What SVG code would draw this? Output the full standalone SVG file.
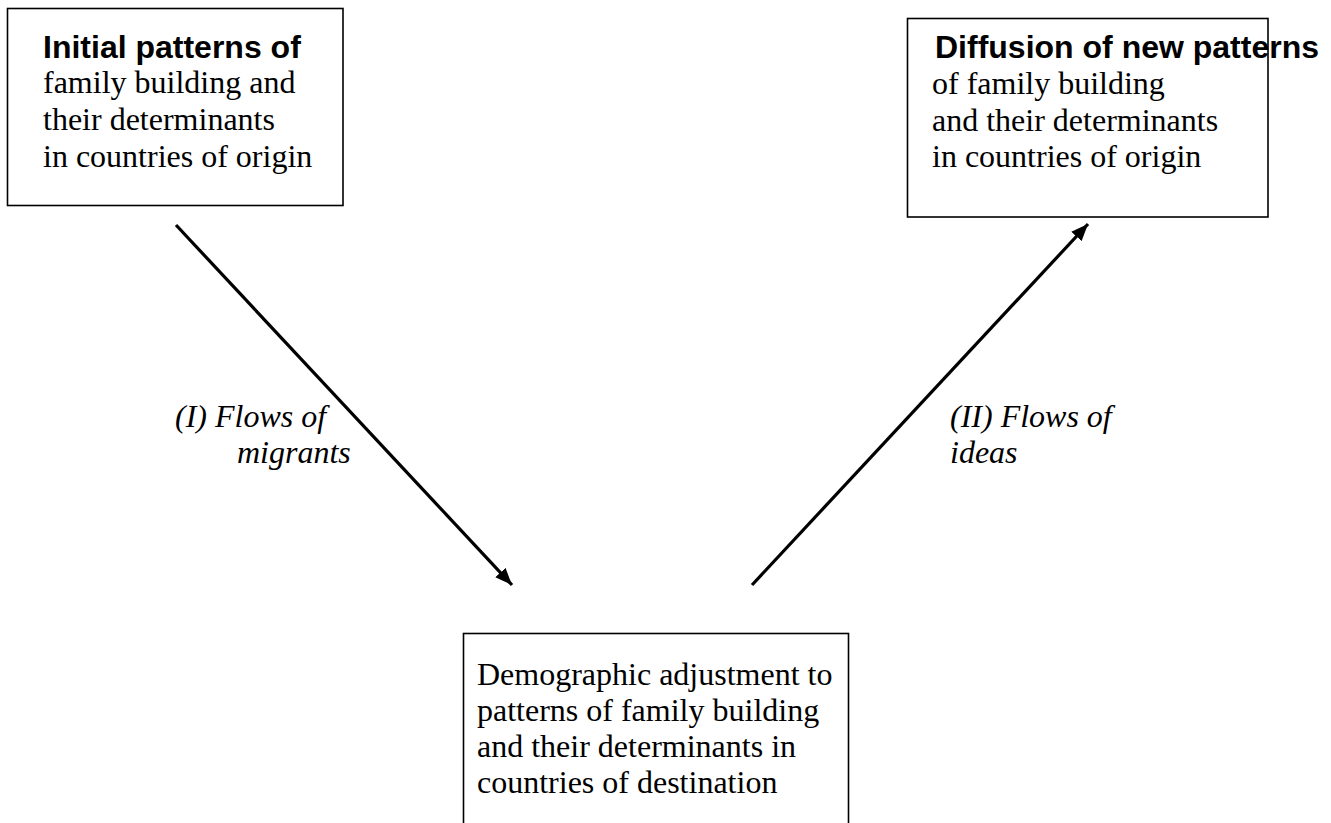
<svg xmlns="http://www.w3.org/2000/svg" width="1331" height="823" viewBox="0 0 1331 823">
<style>
.box{fill:#fff;stroke:#000;stroke-width:1.6}
.hd{font-family:"Liberation Sans",Arial,sans-serif;font-weight:bold;font-size:32px;fill:#000}
.tx{font-family:"Liberation Serif","Times New Roman",serif;font-size:32px;fill:#000}
.lb{font-family:"Liberation Serif","Times New Roman",serif;font-style:italic;font-size:32px;fill:#000}
.conn{stroke:#000;stroke-width:3.2;fill:none}
</style>
<defs>
<marker id="ah" markerUnits="userSpaceOnUse" markerWidth="18" markerHeight="14" refX="17" refY="7" orient="auto">
<path d="M0,0 L17,7 L0,14 z" fill="#000"/>
</marker>
</defs>
<rect width="1331" height="823" fill="#fff"/>
<g id="node-initial">
<rect class="box" x="7.5" y="8.5" width="335.5" height="197"/>
<text class="hd" x="43" y="58">Initial patterns of</text>
<text class="tx" x="43" y="93">family building and</text>
<text class="tx" x="43" y="130">their determinants</text>
<text class="tx" x="43" y="167">in countries of origin</text>
</g>
<g id="node-diffusion">
<rect class="box" x="907.5" y="18.5" width="360.5" height="198.5"/>
<text class="hd" x="935" y="58">Diffusion of new patterns</text>
<text class="tx" x="932" y="94">of family building</text>
<text class="tx" x="932" y="131">and their determinants</text>
<text class="tx" x="932" y="167">in countries of origin</text>
</g>
<g id="node-adjustment">
<rect class="box" x="463.5" y="633.5" width="385" height="200"/>
<text class="tx" x="477" y="685">Demographic adjustment to</text>
<text class="tx" x="477" y="721">patterns of family building</text>
<text class="tx" x="477" y="757">and their determinants in</text>
<text class="tx" x="477" y="793">countries of destination</text>
</g>
<g id="connectors">
<line class="conn" x1="176" y1="225" x2="512" y2="585" marker-end="url(#ah)"/>
<line class="conn" x1="752" y1="585" x2="1088" y2="224" marker-end="url(#ah)"/>
</g>
<g id="labels">
<text class="lb" x="175" y="427">(I) Flows of</text>
<text class="lb" x="237" y="463">migrants</text>
<text class="lb" x="950" y="427">(II) Flows of</text>
<text class="lb" x="950" y="463">ideas</text>
</g>
</svg>
